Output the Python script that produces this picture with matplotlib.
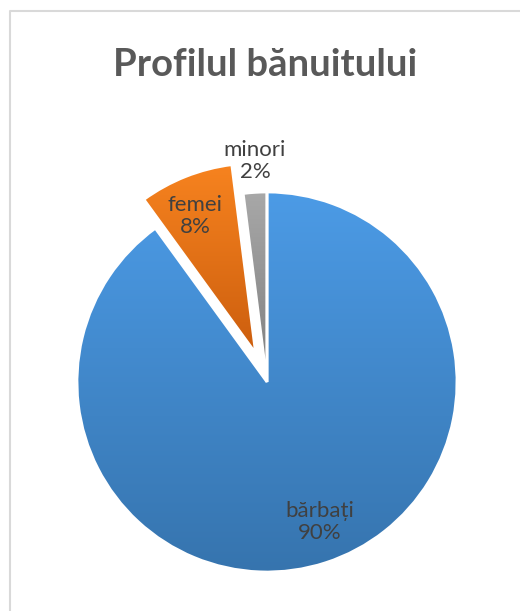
import numpy as np
import matplotlib.pyplot as plt
from matplotlib.colors import LinearSegmentedColormap

labels = ["bărbați", "femei", "minori"]
values = [90, 8, 2]
explode_px = [0, 31, 0]
top_colors = ["#4C9BE6", "#F7831F", "#A8A8A8"]
bottom_colors = ["#3674AE", "#CC5E0E", "#7E7E7E"]

W, H = 520, 611
fig = plt.figure(figsize=(W / 100, H / 100), dpi=100)
ax = fig.add_axes([0, 0, 1, 1])

# chart border (only left and top visible in the crop)
ax.plot([9.5, 9.5, W], [0, H - 10.5, H - 10.5], color="#D9D9D9", lw=1.5)

cx, cy, r = 267, H - 382, 190
# explode is in data units here (pixels), not radius fractions
wedges, _ = ax.pie(values, explode=explode_px, startangle=90, counterclock=False,
                   center=(cx, cy), radius=r, frame=True,
                   wedgeprops=dict(edgecolor="white", linewidth=2.0))
ax.set_xlim(0, W)
ax.set_ylim(0, H)
ax.set_aspect("equal")
ax.axis("off")

# vertical gradient fill per slice
for w, c0, c1 in zip(wedges, top_colors, bottom_colors):
    bb = w.get_path().get_extents()
    cmap = LinearSegmentedColormap.from_list("g", [c1, c0])
    grad = np.linspace(0, 1, 256).reshape(-1, 1)
    im = ax.imshow(grad, cmap=cmap, origin="lower", aspect="auto",
                   extent=[bb.x0, bb.x1, bb.y0, bb.y1], zorder=w.get_zorder() + 0.1)
    im.set_clip_path(w)
    w.set_facecolor("none")
    w.set_zorder(w.get_zorder() + 0.2)
ax.set_xlim(0, W)
ax.set_ylim(0, H)

font = "Lato"
lab_pos = [(320, H - 522), (195, H - 216), (255, H - 161)]
for (x, y), lab, v in zip(lab_pos, labels, values):
    ax.text(x, y, f"{lab}\n{v}%", ha="center", va="center", fontsize=16,
            color="#404040", family=font, linespacing=1.1, zorder=10)

ax.text(265, H - 65, "Profilul bănuitului", ha="center", va="center",
        fontsize=27.5, fontweight="bold", color="#595959", family=font)

fig.savefig("out.png", dpi=100)
